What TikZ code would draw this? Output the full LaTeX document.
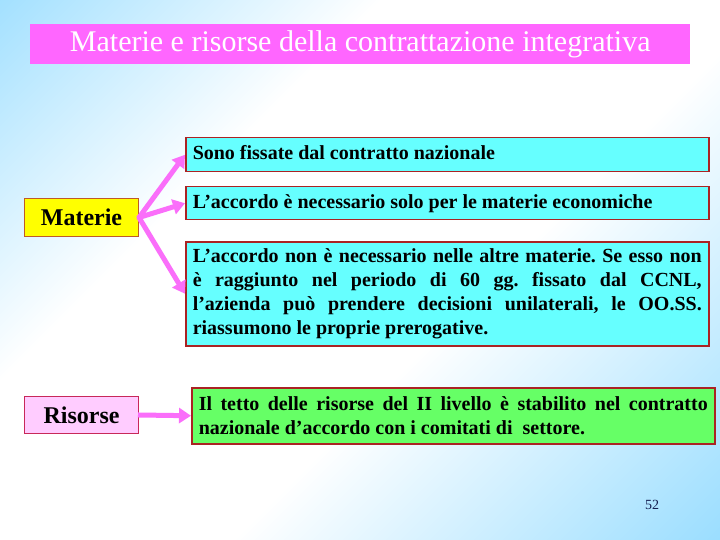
\documentclass[tikz,border=0pt]{standalone}
\usepackage{fontspec}
\setmainfont{Liberation Serif}
\usetikzlibrary{arrows.meta}
\definecolor{bgb}{RGB}{102,204,255}
\definecolor{titlemag}{RGB}{255,102,255}
\definecolor{arrowpink}{RGB}{250,110,250}
\definecolor{boxcyan}{RGB}{102,255,255}
\definecolor{boxgreen}{RGB}{102,255,102}
\definecolor{boxyellow}{RGB}{255,255,0}
\definecolor{boxpink}{RGB}{255,204,255}
\definecolor{boxborder}{RGB}{170,35,35}
\definecolor{matborder}{RGB}{190,90,40}
\definecolor{risborder}{RGB}{200,40,90}
\definecolor{numblue}{RGB}{20,30,80}
\pgfdeclarehorizontalshading{bgshade}{100bp}{color(0bp)=(bgb); color(36bp)=(white); color(58bp)=(white); color(100bp)=(bgb)}
\tikzset{
  infobox/.style={draw=boxborder, line width=1.5pt, anchor=north west, inner xsep=7pt, inner ysep=0pt,
    font=\fontsize{20}{24}\selectfont\bfseries\frenchspacing, align=justify},
  keybox/.style={line width=1pt, anchor=north west, inner sep=0pt,
    font=\fontsize{24}{28}\selectfont\bfseries, align=center},
  bigarrow/.style={draw=arrowpink, line width=5pt, -{Triangle[length=12pt,width=15pt]}, shorten <=-1pt}
}
\begin{document}
\begin{tikzpicture}[x=1pt,y=-1pt]
\useasboundingbox (0,0) rectangle (720,540);
\shade[shading=bgshade, shading angle=-45] (0,0) rectangle (720,540);
% title
\node[fill=titlemag, anchor=north west, minimum width=660pt, minimum height=40pt, inner sep=0pt,
  text=white, font=\fontsize{30}{32}\selectfont] (title) at (30,24) {Materie e risorse della contrattazione integrativa};
% key boxes
\node[keybox, draw=matborder, fill=boxyellow, minimum width=114pt, minimum height=38pt] (mat) at (24,198) {Materie};
\node[keybox, draw=risborder, fill=boxpink, minimum width=114pt, minimum height=37pt] (ris) at (24,396) {Risorse};
% info boxes
\node[infobox, fill=boxcyan, text width=509pt, minimum height=34pt] (b1) at (185,137) {Sono fissate dal contratto nazionale\strut};
\node[infobox, fill=boxcyan, text width=509pt, minimum height=33pt] (b2) at (185,186) {L’accordo è necessario solo per le materie economiche\strut};
\node[infobox, fill=boxcyan, text width=509pt, minimum height=104pt] (b3) at (185,241) {L’accordo non è necessario nelle altre materie. Se esso non\linebreak è raggiunto nel periodo di 60 gg. fissato dal CCNL,\linebreak l’azienda può prendere decisioni unilaterali, le OO.SS.\linebreak riassumono le proprie prerogative.};
\node[infobox, fill=boxgreen, text width=509pt, minimum height=56pt] (g) at (191,387) {Il tetto delle risorse del II livello è stabilito nel contratto\linebreak nazionale d’accordo con i comitati di\ \ settore.};
% arrows
\draw[bigarrow] (mat.east) -- (b1.west);
\draw[bigarrow] (mat.east) -- (b2.west);
\draw[bigarrow] (mat.east) -- (b3.west);
\draw[bigarrow] (ris.east) -- (g.west);
% page number
\node[text=numblue, font=\fontsize{14}{16}\selectfont] (num) at (652,505) {52};
\end{tikzpicture}
\end{document}
